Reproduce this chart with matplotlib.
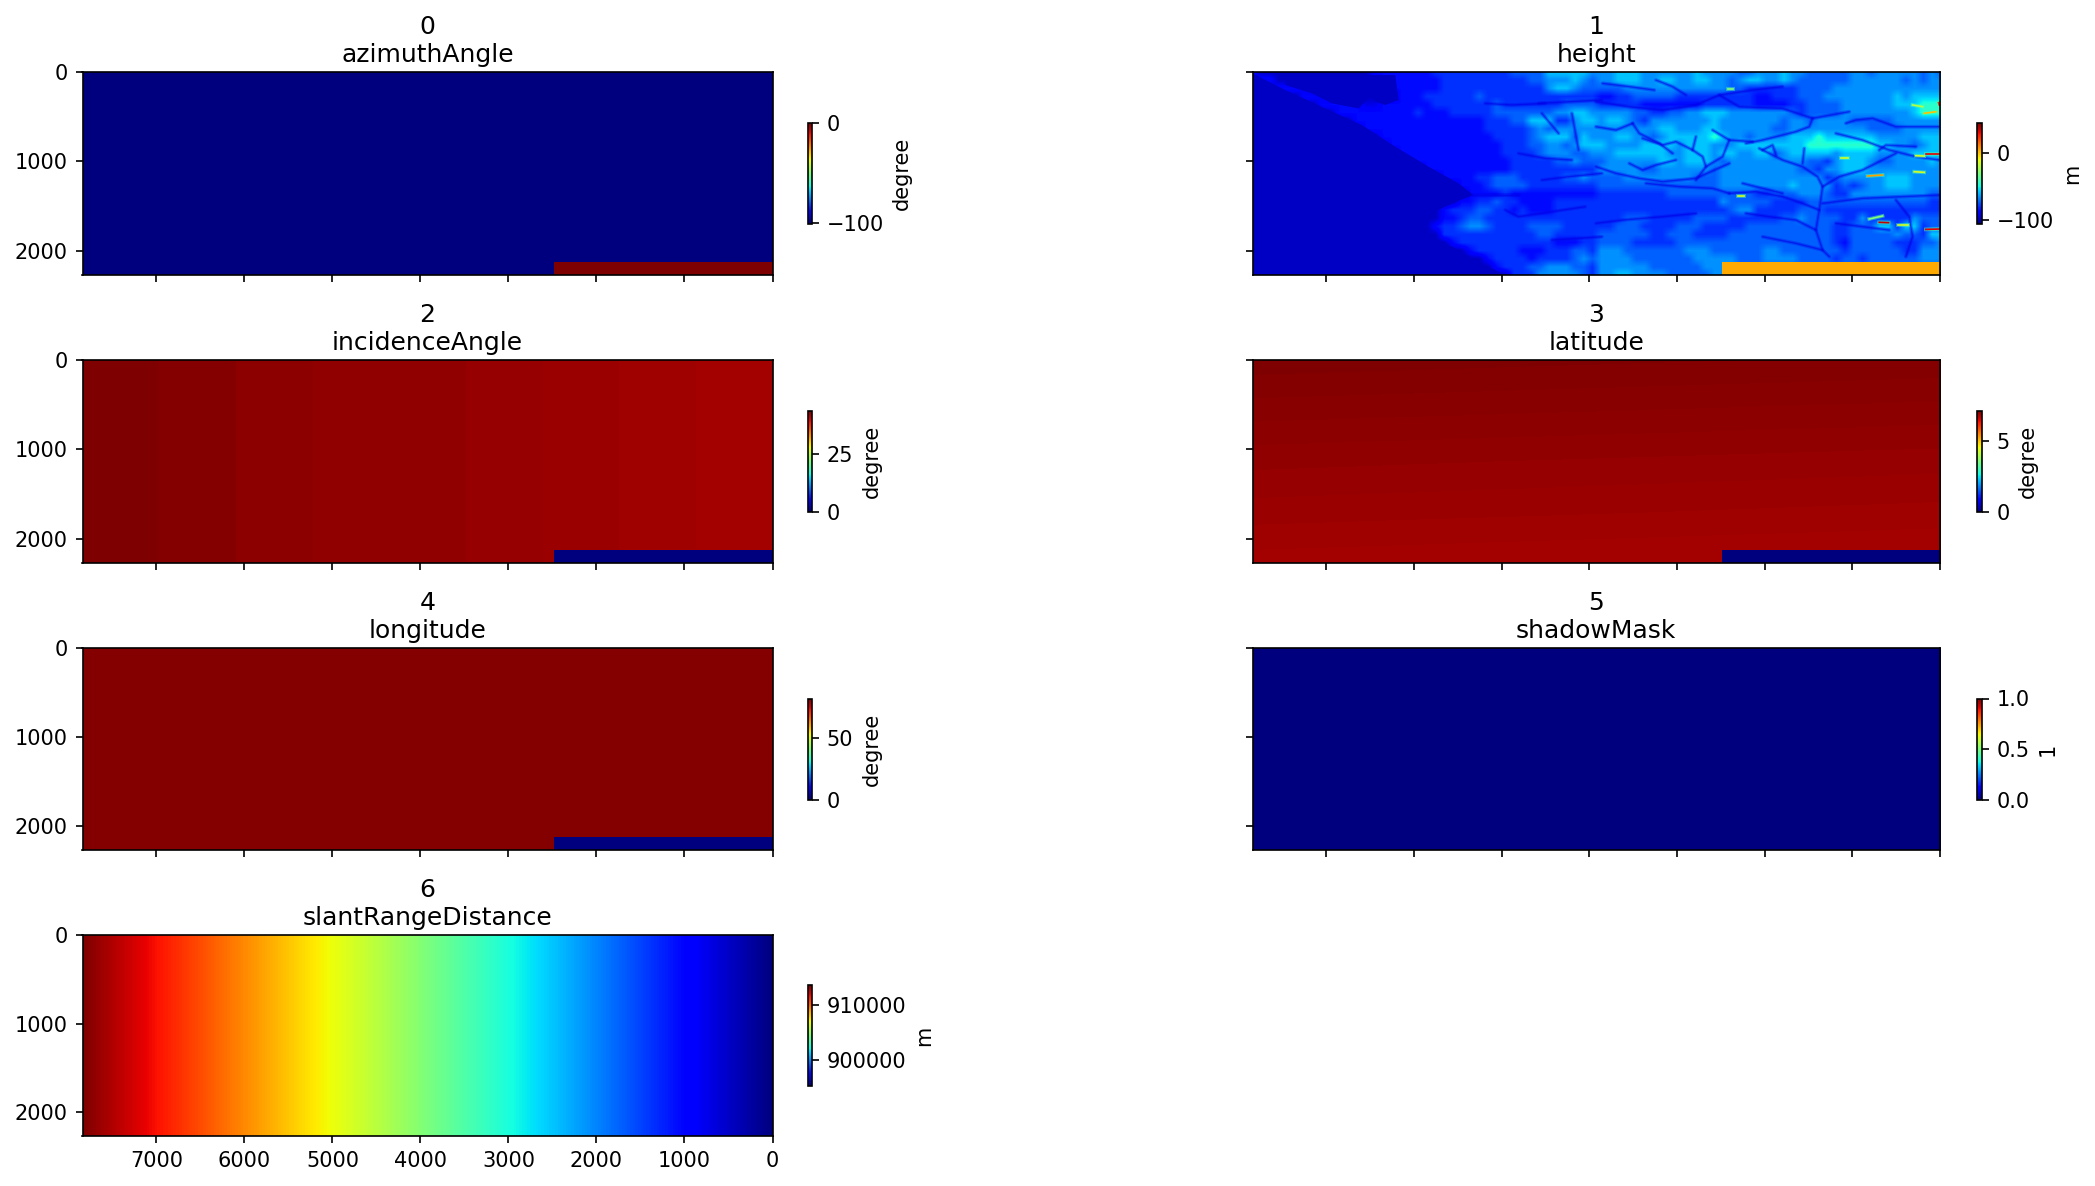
import numpy as np
import matplotlib
matplotlib.use("Agg")
import matplotlib.pyplot as plt
from matplotlib.colors import Normalize

DPI = 150
W, H = 2095, 1186
X_MAX, Y_MAX = 7840, 2270
BAR_X, BAR_Y = 2483, 2125

NAMES = ["azimuthAngle", "height", "incidenceAngle", "latitude", "longitude", "shadowMask", "slantRangeDistance"]
UNITS = ["degree", "m", "degree", "degree", "degree", "1", "m"]
CLIMS = [(-101, 0), (-106, 44), (0, 43.6), (0, 7.1), (0, 82.6), (0, 1), (895370, 913660)]
CBAR_TICKS = [[-100, 0], [-100, 0], [0, 25], [0, 5], [0, 50], [0, 0.5, 1.0], [900000, 910000]]
BAR_VALUES = [0, 3.5, 0, 0, 0, None, None]

AZIMUTH = [[-101]]
SHADOW = [[0]]
LONGITUDE = [[82.2]]
# one reading per column band, left to right
INCIDENCE = [[43.51, 43.34, 43.0, 42.83, 42.83, 42.66, 42.48, 42.31, 42.14]]
# readings at left and right edge, top to bottom
LATITUDE = [[7.09, 7.066], [7.03, 7.006], [6.97, 6.946], [6.92, 6.896], [6.864, 6.84]]
# readings every 490 px of slant column, left to right
SLANT = [[913660, 912500, 911350, 910200, 909050, 907900, 906780, 905650, 904500, 903350,
          902220, 901100, 899950, 898800, 897650, 896500, 895370]]

HEIGHT_LEVELS = [-97, -92, -86, -80, -73, -66, -58, -46, -20, 10]
HEIGHT_ROWS = [
    "2000000000 0000222222 2333333333 4444666665 5566655555 5655554455 5655444445 5455555454",
    "0220000000 0000122222 2233333333 3344555654 5566655665 5665545665 5654444445 5555545455",
    "0002221000 0000002222 2233333333 3333566544 4445555555 5555544333 3334444555 5555555555",
    "0000002211 1100000222 3333334333 3333333333 2233444443 3333333322 3334445555 5555656666",
    "0000000022 2221122222 2333333343 3333334444 3333322222 2233333322 2233444455 5555666777",
    "0000000000 2222222223 2223333344 4444455665 5555443344 5566655555 5543444455 5555556777",
    "0000000000 0022222222 2222222333 4466633566 5665435555 5556555555 5455455554 4444555555",
    "0000000000 0002222222 2222222333 3345455555 5555555665 5566555555 4455555555 5444455555",
    "0000000000 0000022222 2222222233 3345666465 5566554566 6667655455 5566676666 6655555666",
    "0000000000 0000002222 2222222223 3344554566 6555566665 6665556666 6666777777 7766554566",
    "0000000000 0000000222 2222222223 3334555445 5566666655 6665665566 4566666566 6655556666",
    "0000000000 0000000022 2222222222 3333344544 4555555665 6665455555 5555443566 6544555565",
    "0000000000 0000000000 2222222222 3333333333 5555544555 5554555555 5554435566 6555555555",
    "0000000000 0000000000 0022223344 4333334454 4445555555 5444555555 5555553455 5556665555",
    "0000000000 0000000000 0000222344 4433333333 4444444444 4444555555 5565555343 4556665555",
    "0000000000 0000000000 0000022223 2222222222 3333333344 4444444433 4445554335 5555555544",
    "0000000000 0000000000 0000223343 3222233333 3333333333 3333544444 3333444444 4444444433",
    "0000000000 0000000000 0023334433 2322233333 3333333333 3333345533 3334443333 3333333333",
    "0000000000 0000000000 0022344333 3333333333 3334443333 3444433333 3445444433 5333335444",
    "0000000000 0000000000 0233455433 3344443333 3344433334 4433333444 4444444334 4466366344",
    "0000000000 0000000000 0033333333 3334433333 4444443344 4333344444 4444444334 4444544366",
    "0000000000 0000000000 0002333333 3333322233 4444333334 4444444444 4444444324 4444333445",
    "0000000000 0000000000 0000023333 3222333443 5554444444 5554444445 5444444434 4444433555",
    "0000000000 0000000000 0000000233 3323333454 5555444444 4555554445 5554444344 3444444555",
    "0000000000 0000000000 0000000023 3344555443 5555554444 4455554444 4444444444 4444444444",
    "0000000000 0000000000 0000000000 3335555543 5566555544 4445555444 4444444444 4444444444",
]
HEIGHT = [[HEIGHT_LEVELS[int(c)] for c in row.replace(" ", "")] for row in HEIGHT_ROWS]

SEA_LEVEL = -97
COAST_X = [7840, 7466, 7010, 6592, 6212, 5832, 5490, 5319, 5566, 5718, 5908, 5946, 5566, 5224, 4958, 7840]
COAST_Y = [15, 202, 407, 593, 835, 1059, 1245, 1376, 1469, 1543, 1637, 1767, 1953, 2140, 2270, 2270]
LAGOON_X = [7466, 6212, 6174, 6326, 6440, 6497, 6630, 6934, 7162, 7466]
LAGOON_Y = [34, 34, 313, 369, 332, 276, 407, 351, 239, 146]

VALLEY_LEVEL = -92
VALLEYS_X = [
    [3923, 3543, 3163, 2783, 2517, 2137, 1795],
    [2517, 2289, 1795, 1453, 1035],
    [3505, 3429, 3201, 3049],
    [2061, 1795, 1567, 1396, 1339, 1377, 1415, 1339, 1263],
    [1339, 1149, 883, 655, 503],
    [1548, 1567],
    [2783, 2821, 2707, 2669, 2783],
    [2669, 2479, 2403, 2593],
    [3923, 3695, 3429, 3163, 2783, 2403],
    [2403, 2099, 1795, 1567, 1377],
    [503, 351, 313, 389],
    [1339, 883, 9],
    [1187, 883, 579, 275, 9],
    [1453, 1491, 1643, 2023, 2213],
    [4578, 3856],
    [4198, 4122],
    [4540, 4350],
    [5338, 4806],
    [3923, 3695, 3505],
    [3391, 3163, 3011, 2821],
    [3543, 3391, 3239, 3011],
    [2403, 2137],
    [2023, 1909, 1871],
    [2251, 2023, 1795],
    [3353, 2973, 2593, 2403],
    [1073, 959, 769, 503, 9],
    [693, 617, 275],
    [1187, 883, 579],
    [1415, 1643, 1947, 2213],
    [1339, 1643, 2023],
    [3923, 3619, 3163, 2783],
    [3239, 3049, 2897],
    [3847, 3543, 3257],
    [4540, 4236, 3856],
    [4806, 4502, 4198],
    [4958, 4806, 4046],
    [4426, 3856],
    [4502, 4882, 5186],
]
VALLEYS_Y = [
    [332, 388, 425, 369, 258, 202, 164],
    [258, 388, 407, 518, 444],
    [574, 686, 798, 910],
    [854, 984, 1059, 1171, 1282, 1543, 1767, 1991, 2065],
    [1282, 1171, 1096, 984, 910],
    [854, 1022],
    [723, 872, 947, 1059, 1208],
    [1059, 947, 761, 649],
    [1059, 1133, 1189, 1226, 1189, 1022],
    [1357, 1338, 1394, 1469, 1543],
    [1432, 1618, 1841, 2065],
    [1469, 1413, 1376],
    [686, 761, 872, 947, 984],
    [518, 612, 667, 761, 798],
    [351, 313],
    [462, 872],
    [462, 686],
    [1376, 1376],
    [612, 649, 574],
    [742, 816, 779, 872],
    [1022, 1096, 1040, 984],
    [761, 779],
    [872, 817, 928],
    [1245, 1301, 1357],
    [1245, 1282, 1301, 1357],
    [574, 537, 518, 612, 612],
    [872, 817, 835],
    [1692, 1730, 1767],
    [1767, 1655, 1618, 1581],
    [1991, 1916, 1842],
    [1692, 1655, 1618, 1581],
    [90, 164, 258],
    [127, 164, 202],
    [1208, 1171, 1133],
    [910, 966, 984],
    [1543, 1618, 1506],
    [1879, 1842],
    [351, 369, 351],
]

# thin high ridges: start x, end x, start y, end y, height
RIDGE_X0 = [826, 693, 807, 484, 161, 161, 2308, 2422, 275, 1130, 294, 313, 180, 17]
RIDGE_X1 = [655, 587, 655, 370, 9, 9, 2232, 2365, 180, 1054, 180, 199, 47, 9]
RIDGE_Y0 = [1163, 1681, 1644, 1711, 1760, 921, 1387, 194, 936, 966, 1115, 369, 462, 343]
RIDGE_Y1 = [1152, 1685, 1610, 1711, 1756, 921, 1387, 194, 940, 966, 1122, 388, 444, 369]
RIDGE_H = [5, 35, -30, -15, 30, 30, -15, -30, -15, -15, -15, -20, 0, 25]
RIDGE_HALO = -38

PANELS = [AZIMUTH, HEIGHT, INCIDENCE, LATITUDE, LONGITUDE, SHADOW, SLANT]

COL_X = [(82.5, 772.5), (1252.5, 1940)]
ROW_Y = [(72, 275), (360, 563), (648, 850), (935, 1136)]
CB_X = [(807.5, 812), (1977, 1982)]

fig = plt.figure(figsize=(W / DPI, H / DPI), dpi=DPI)


def rect(x0, x1, y0, y1):
    return [x0 / W, 1 - y1 / H, (x1 - x0) / W, (y1 - y0) / H]


for i, (name, unit, clim, ticks, bar, data) in enumerate(
        zip(NAMES, UNITS, CLIMS, CBAR_TICKS, BAR_VALUES, PANELS)):
    row, col = i // 2, i % 2
    x0, x1 = COL_X[col]
    y0, y1 = ROW_Y[row]
    ax = fig.add_axes(rect(x0, x1, y0, y1))
    arr = np.array(data, dtype=float)
    norm = Normalize(*clim)
    if i in (1, 3, 6):
        # samples sit on the panel edges, so the cells reach half a step beyond them
        hx = X_MAX / max(arr.shape[1] - 1, 1) / 2
        hy = Y_MAX / max(arr.shape[0] - 1, 1) / 2
        im = ax.imshow(arr, cmap="jet", norm=norm, aspect="auto",
                       extent=(X_MAX + hx, -hx, Y_MAX + hy, -hy),
                       interpolation="bilinear", interpolation_stage="data")
    else:
        im = ax.imshow(arr, cmap="jet", norm=norm, aspect="auto",
                       extent=(X_MAX, 0, Y_MAX, 0), interpolation="nearest")
    if i == 1:
        jet = plt.get_cmap("jet")
        ax.fill(COAST_X, COAST_Y, color=jet(norm(SEA_LEVEL)), lw=0, zorder=1.2)
        ax.fill(LAGOON_X, LAGOON_Y, color=jet(norm(SEA_LEVEL)), lw=0, zorder=1.2)
        for vx, vy in zip(VALLEYS_X, VALLEYS_Y):
            ax.plot(vx, vy, color=jet(norm(VALLEY_LEVEL)), lw=1.8, alpha=0.3, zorder=1.4,
                    solid_capstyle="round")
            ax.plot(vx, vy, color=jet(norm(VALLEY_LEVEL)), lw=0.7, alpha=0.55, zorder=1.5,
                    solid_capstyle="round")
        for xa, xb, ya, yb, hv in zip(RIDGE_X0, RIDGE_X1, RIDGE_Y0, RIDGE_Y1, RIDGE_H):
            ax.plot([xa, xb], [ya, yb], color=jet(norm(RIDGE_HALO)), lw=1.8, alpha=0.5, zorder=1.55)
            ax.plot([xa, xb], [ya, yb], color=jet(norm(hv)), lw=0.8, zorder=1.6)
    if bar is not None:
        ax.imshow([[bar]], cmap="jet", norm=norm, aspect="auto",
                  extent=(BAR_X, 0, Y_MAX, BAR_Y), interpolation="nearest", zorder=1.8)
    ax.set_xlim(X_MAX, 0)
    ax.set_ylim(Y_MAX, 0)
    ax.set_xticks(range(0, 8000, 1000))
    ax.set_yticks([0, 1000, 2000])
    if i != 6:
        ax.tick_params(labelbottom=False)
    if col == 1:
        ax.tick_params(labelleft=False)
    ax.set_title(f"{i}\n{name}", fontsize=12, pad=4.7, linespacing=1.2)

    cb_x0, cb_x1 = CB_X[col]
    mid = (y0 + y1) / 2
    cax = fig.add_axes(rect(cb_x0, cb_x1, mid - 50.5, mid + 50.5))
    cb = fig.colorbar(im, cax=cax)
    cb.set_ticks(ticks)
    cb.set_label(unit)

fig.savefig("out.png", dpi=DPI, facecolor="white")
